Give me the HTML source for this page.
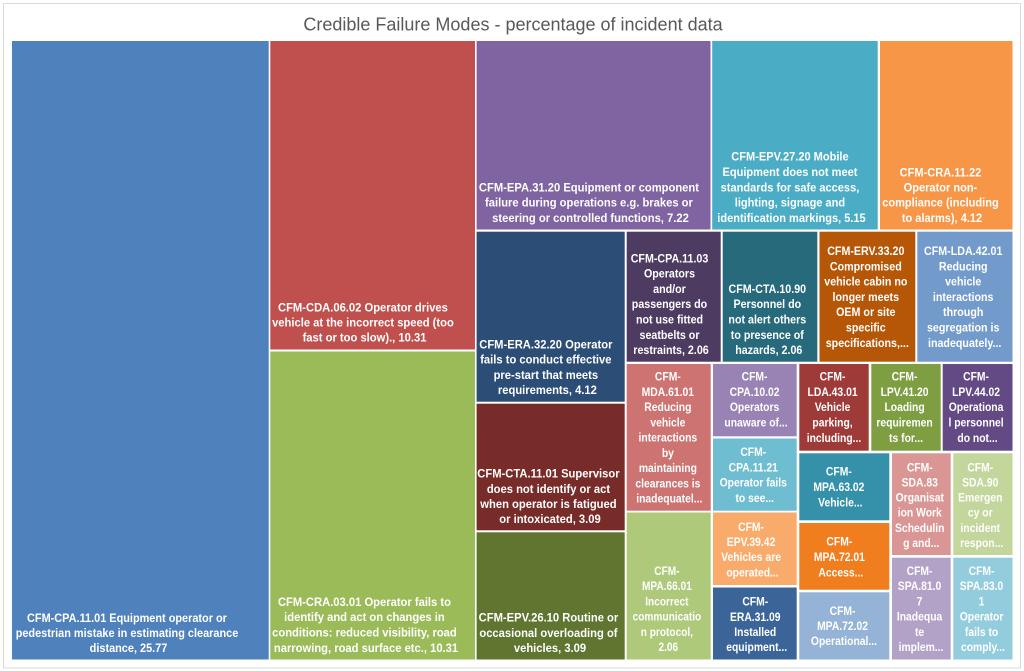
<!DOCTYPE html>
<html>
<head>
<meta charset="utf-8">
<style>
html,body{margin:0;padding:0;background:#fff;}
svg{display:block;}
.t{font-family:"Liberation Sans",Arial,sans-serif;font-weight:bold;font-size:11.5px;fill:#fff;text-anchor:middle;}
.title{font-family:"Liberation Sans",Arial,sans-serif;font-size:18px;fill:#595959;text-anchor:middle;}
</style>
</head>
<body>
<svg width="1024" height="671" viewBox="0 0 1024 671" xmlns="http://www.w3.org/2000/svg">
<rect x="0" y="0" width="1024" height="671" fill="#fff"/>
<rect x="3.5" y="3.5" width="1017" height="664.5" fill="#fff" stroke="#D9D9D9" stroke-width="1"/>
<text class="title" x="513" y="30.5">Credible Failure Modes - percentage of incident data</text>

<!-- rectangles -->
<rect x="12" y="41" width="256.7" height="618.5" fill="#4F81BD"/>
<rect x="270.3" y="41" width="204.7" height="308.5" fill="#C0504D"/>
<rect x="270.3" y="351.5" width="204.7" height="308" fill="#9BBB59"/>
<rect x="476.6" y="41" width="233.9" height="188.5" fill="#8064A2"/>
<rect x="712.2" y="41" width="165.5" height="188.5" fill="#4BACC6"/>
<rect x="880" y="41" width="132.5" height="188.5" fill="#F79646"/>
<rect x="476.6" y="231.7" width="148.1" height="170" fill="#2C4D75"/>
<rect x="476.6" y="403.7" width="148.1" height="126.6" fill="#772C2A"/>
<rect x="476.6" y="532.3" width="148.1" height="127.2" fill="#5F7530"/>
<rect x="626.7" y="231.7" width="94" height="130" fill="#4D3B62"/>
<rect x="722.7" y="231.7" width="94.6" height="130" fill="#276A7C"/>
<rect x="819.5" y="231.7" width="95.8" height="130" fill="#B65708"/>
<rect x="917.3" y="231.7" width="95.2" height="130" fill="#729ACA"/>
<rect x="626.7" y="364" width="84" height="146.7" fill="#CD7371"/>
<rect x="626.7" y="512.5" width="84" height="147" fill="#AFC97A"/>
<rect x="713" y="364" width="83.7" height="72.3" fill="#9983B5"/>
<rect x="713" y="438.5" width="83.7" height="72.2" fill="#6FBDD1"/>
<rect x="713" y="512.5" width="83.7" height="72.5" fill="#F9AB6B"/>
<rect x="713" y="587.5" width="83.7" height="72" fill="#3B6599"/>
<rect x="799.3" y="364" width="69.4" height="86.7" fill="#9E3B39"/>
<rect x="871.3" y="364" width="69.4" height="86.7" fill="#7E9E41"/>
<rect x="942.7" y="364" width="69.8" height="86.7" fill="#634A84"/>
<rect x="799.3" y="453.3" width="90" height="67" fill="#3591AA"/>
<rect x="799.3" y="523" width="90" height="66.7" fill="#F07D1E"/>
<rect x="799.3" y="592.3" width="90" height="67.2" fill="#95B3D7"/>
<rect x="892" y="453.3" width="58.7" height="101.7" fill="#D99694"/>
<rect x="953.3" y="453.3" width="59.2" height="101.7" fill="#C3D69B"/>
<rect x="892" y="557.7" width="58.7" height="101.8" fill="#B3A2C7"/>
<rect x="953.3" y="557.7" width="59.2" height="101.8" fill="#93CDDD"/>

<!-- labels -->
<g transform="translate(128.5 0) scale(0.95 1)"><text class="t">
<tspan x="0" y="622">CFM-CPA.11.01 Equipment operator or</tspan>
<tspan x="0" y="637">pedestrian mistake in estimating clearance</tspan>
<tspan x="0" y="652">distance, 25.77</tspan></text></g>

<g transform="translate(364.5 0) scale(0.975 1)"><text class="t">
<tspan x="0" y="311.5">CFM-CDA.06.02 Operator drives</tspan>
<tspan x="0" y="326.5">vehicle at the incorrect speed (too</tspan>
<tspan x="0" y="341.5">fast or too slow)., 10.31</tspan></text></g>

<g transform="translate(366 0) scale(0.975 1)"><text class="t">
<tspan x="0" y="606">CFM-CRA.03.01 Operator fails to</tspan>
<tspan x="0" y="621">identify and act on changes in</tspan>
<tspan x="0" y="636.5">conditions: reduced visibility, road</tspan>
<tspan x="0" y="652">narrowing, road surface etc., 10.31</tspan></text></g>

<g transform="translate(590.5 0) scale(0.975 1)"><text class="t">
<tspan x="0" y="191.5">CFM-EPA.31.20 Equipment or component</tspan>
<tspan x="0" y="206.7">failure during operations e.g. brakes or</tspan>
<tspan x="0" y="222">steering or controlled functions, 7.22</tspan></text></g>

<g transform="translate(791.5 0) scale(0.96 1)"><text class="t">
<tspan x="0" y="160.7">CFM-EPV.27.20 Mobile</tspan>
<tspan x="0" y="176">Equipment does not meet</tspan>
<tspan x="0" y="191.3">standards for safe access,</tspan>
<tspan x="0" y="206.7">lighting, signage and</tspan>
<tspan x="0" y="222">identification markings, 5.15</tspan></text></g>

<g transform="translate(942 0) scale(0.96 1)"><text class="t">
<tspan x="0" y="176.3">CFM-CRA.11.22</tspan>
<tspan x="0" y="191.3">Operator non-</tspan>
<tspan x="0" y="206.7">compliance (including</tspan>
<tspan x="0" y="222">to alarms), 4.12</tspan></text></g>

<g transform="translate(547.4 0) scale(0.975 1)"><text class="t">
<tspan x="0" y="348.3">CFM-ERA.32.20 Operator</tspan>
<tspan x="0" y="363.6">fails to conduct effective</tspan>
<tspan x="0" y="378.9">pre-start that meets</tspan>
<tspan x="0" y="394.2">requirements, 4.12</tspan></text></g>

<g transform="translate(550 0) scale(0.975 1)"><text class="t">
<tspan x="0" y="477.7">CFM-CTA.11.01 Supervisor</tspan>
<tspan x="0" y="492.8">does not identify or act</tspan>
<tspan x="0" y="507.9">when operator is fatigued</tspan>
<tspan x="0" y="523">or intoxicated, 3.09</tspan></text></g>

<g transform="translate(550 0) scale(0.975 1)"><text class="t">
<tspan x="0" y="621.7">CFM-EPV.26.10 Routine or</tspan>
<tspan x="0" y="636.8">occasional overloading of</tspan>
<tspan x="0" y="651.9">vehicles, 3.09</tspan></text></g>

<g transform="translate(671 0) scale(0.93 1)"><text class="t">
<tspan x="0" y="262.3">CFM-CPA.11.03</tspan>
<tspan x="0" y="277.6">Operators</tspan>
<tspan x="0" y="292.9">and/or</tspan>
<tspan x="0" y="308.2">passengers do</tspan>
<tspan x="0" y="323.5">not use fitted</tspan>
<tspan x="0" y="338.8">seatbelts or</tspan>
<tspan x="0" y="354">restraints, 2.06</tspan></text></g>

<g transform="translate(768.8 0) scale(0.93 1)"><text class="t">
<tspan x="0" y="292.9">CFM-CTA.10.90</tspan>
<tspan x="0" y="308.2">Personnel do</tspan>
<tspan x="0" y="323.5">not alert others</tspan>
<tspan x="0" y="338.8">to presence of</tspan>
<tspan x="0" y="354">hazards, 2.06</tspan></text></g>

<g transform="translate(867.3 0) scale(0.93 1)"><text class="t">
<tspan x="0" y="255">CFM-ERV.33.20</tspan>
<tspan x="0" y="270.3">Compromised</tspan>
<tspan x="0" y="285.6">vehicle cabin no</tspan>
<tspan x="0" y="300.9">longer meets</tspan>
<tspan x="0" y="316.2">OEM or site</tspan>
<tspan x="0" y="331.5">specific</tspan>
<tspan x="0" y="346.8">specifications,...</tspan></text></g>

<g transform="translate(964.7 0) scale(0.93 1)"><text class="t">
<tspan x="0" y="255">CFM-LDA.42.01</tspan>
<tspan x="0" y="270.3">Reducing</tspan>
<tspan x="0" y="285.6">vehicle</tspan>
<tspan x="0" y="300.9">interactions</tspan>
<tspan x="0" y="316.2">through</tspan>
<tspan x="0" y="331.5">segregation is</tspan>
<tspan x="0" y="346.8">inadequately...</tspan></text></g>

<g transform="translate(669.3 0) scale(0.9 1)"><text class="t">
<tspan x="0" y="380.7">CFM-</tspan>
<tspan x="0" y="396">MDA.61.01</tspan>
<tspan x="0" y="411.2">Reducing</tspan>
<tspan x="0" y="426.5">vehicle</tspan>
<tspan x="0" y="441.7">interactions</tspan>
<tspan x="0" y="457">by</tspan>
<tspan x="0" y="472.2">maintaining</tspan>
<tspan x="0" y="487.5">clearances is</tspan>
<tspan x="0" y="502.7">inadequatel...</tspan></text></g>

<g transform="translate(668.3 0) scale(0.88 1)"><text class="t">
<tspan x="0" y="575">CFM-</tspan>
<tspan x="0" y="590.2">MPA.66.01</tspan>
<tspan x="0" y="605.5">Incorrect</tspan>
<tspan x="0" y="620.7">communicatio</tspan>
<tspan x="0" y="636">n protocol,</tspan>
<tspan x="0" y="651.2">2.06</tspan></text></g>

<g transform="translate(756 0) scale(0.9 1)"><text class="t">
<tspan x="0" y="380.7">CFM-</tspan>
<tspan x="0" y="396">CPA.10.02</tspan>
<tspan x="0" y="411.2">Operators</tspan>
<tspan x="0" y="426.5">unaware of...</tspan></text></g>

<g transform="translate(754.7 0) scale(0.9 1)"><text class="t">
<tspan x="0" y="456">CFM-</tspan>
<tspan x="0" y="471.3">CPA.11.21</tspan>
<tspan x="0" y="486.6">Operator fails</tspan>
<tspan x="0" y="501.9">to see...</tspan></text></g>

<g transform="translate(752.5 0) scale(0.9 1)"><text class="t">
<tspan x="0" y="531">CFM-</tspan>
<tspan x="0" y="546.1">EPV.39.42</tspan>
<tspan x="0" y="561.2">Vehicles are</tspan>
<tspan x="0" y="576.3">operated...</tspan></text></g>

<g transform="translate(756.7 0) scale(0.9 1)"><text class="t">
<tspan x="0" y="605.7">CFM-</tspan>
<tspan x="0" y="620.8">ERA.31.09</tspan>
<tspan x="0" y="635.9">Installed</tspan>
<tspan x="0" y="651">equipment...</tspan></text></g>

<g transform="translate(834 0) scale(0.9 1)"><text class="t">
<tspan x="0" y="380.7">CFM-</tspan>
<tspan x="0" y="396">LDA.43.01</tspan>
<tspan x="0" y="411.2">Vehicle</tspan>
<tspan x="0" y="426.5">parking,</tspan>
<tspan x="0" y="441.8">including...</tspan></text></g>

<g transform="translate(906 0) scale(0.9 1)"><text class="t">
<tspan x="0" y="380.7">CFM-</tspan>
<tspan x="0" y="396">LPV.41.20</tspan>
<tspan x="0" y="411.2">Loading</tspan>
<tspan x="0" y="426.5">requiremen</tspan>
<tspan x="0" y="441.8">ts for...</tspan></text></g>

<g transform="translate(977.5 0) scale(0.9 1)"><text class="t">
<tspan x="0" y="380.7">CFM-</tspan>
<tspan x="0" y="396">LPV.44.02</tspan>
<tspan x="0" y="411.2">Operationa</tspan>
<tspan x="0" y="426.5">l personnel</tspan>
<tspan x="0" y="441.8">do not...</tspan></text></g>

<g transform="translate(840.3 0) scale(0.9 1)"><text class="t">
<tspan x="0" y="475.7">CFM-</tspan>
<tspan x="0" y="491">MPA.63.02</tspan>
<tspan x="0" y="506.5">Vehicle...</tspan></text></g>

<g transform="translate(840.8 0) scale(0.9 1)"><text class="t">
<tspan x="0" y="545.7">CFM-</tspan>
<tspan x="0" y="561">MPA.72.01</tspan>
<tspan x="0" y="576.3">Access...</tspan></text></g>

<g transform="translate(844 0) scale(0.9 1)"><text class="t">
<tspan x="0" y="615">CFM-</tspan>
<tspan x="0" y="630">MPA.72.02</tspan>
<tspan x="0" y="645">Operational...</tspan></text></g>

<g transform="translate(921.2 0) scale(0.9 1)"><text class="t">
<tspan x="0" y="471.3">CFM-</tspan>
<tspan x="0" y="486.5">SDA.83</tspan>
<tspan x="0" y="501.6">Organisat</tspan>
<tspan x="0" y="516.7">ion Work</tspan>
<tspan x="0" y="531.8">Schedulin</tspan>
<tspan x="0" y="547">g and...</tspan></text></g>

<g transform="translate(981.7 0) scale(0.9 1)"><text class="t">
<tspan x="0" y="471.3">CFM-</tspan>
<tspan x="0" y="486.5">SDA.90</tspan>
<tspan x="0" y="501.6">Emergen</tspan>
<tspan x="0" y="516.7">cy or</tspan>
<tspan x="0" y="531.8">incident</tspan>
<tspan x="0" y="547">respon...</tspan></text></g>

<g transform="translate(921 0) scale(0.9 1)"><text class="t">
<tspan x="0" y="575">CFM-</tspan>
<tspan x="0" y="590.2">SPA.81.0</tspan>
<tspan x="0" y="605.4">7</tspan>
<tspan x="0" y="620.6">Inadequa</tspan>
<tspan x="0" y="635.8">te</tspan>
<tspan x="0" y="651">implem...</tspan></text></g>

<g transform="translate(983 0) scale(0.9 1)"><text class="t">
<tspan x="0" y="575">CFM-</tspan>
<tspan x="0" y="590.2">SPA.83.0</tspan>
<tspan x="0" y="605.4">1</tspan>
<tspan x="0" y="620.6">Operator</tspan>
<tspan x="0" y="635.8">fails to</tspan>
<tspan x="0" y="651">comply...</tspan></text></g>
</svg>
</body>
</html>
